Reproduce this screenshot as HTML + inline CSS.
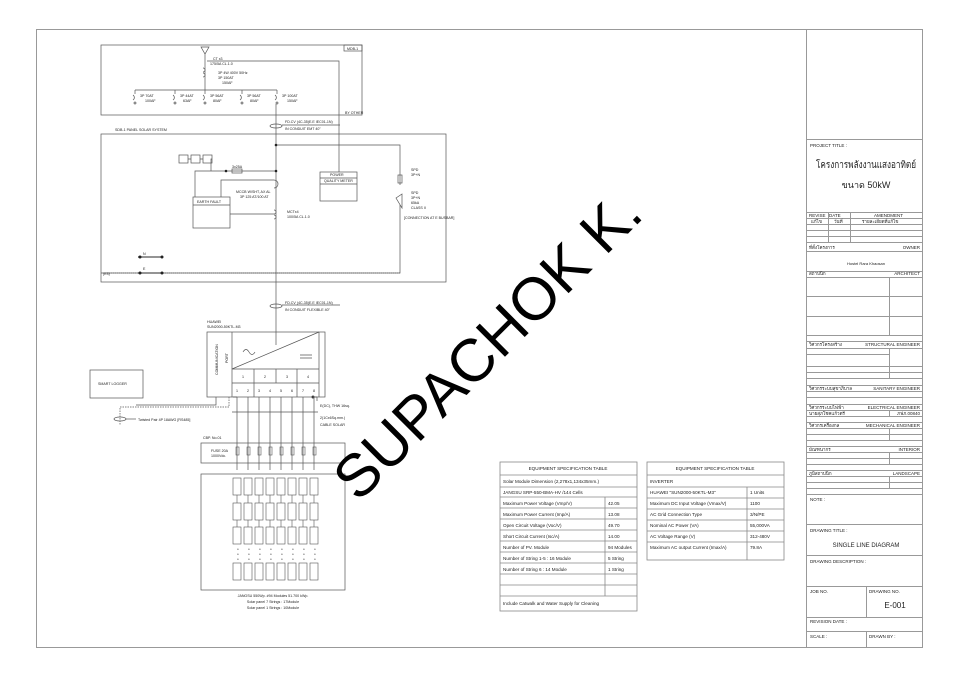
<!DOCTYPE html>
<html><head><meta charset="utf-8"><style>
html,body{margin:0;padding:0;background:#fff;}
svg{display:block;}
text{font-family:"Liberation Sans","Noto Sans CJK SC",sans-serif;fill:#222;}
</style></head><body>
<svg width="960" height="678" viewBox="0 0 960 678" xmlns="http://www.w3.org/2000/svg">
<rect width="960" height="678" fill="#fff"/>
<g fill="none" stroke="#999" stroke-width="1">
<rect x="36.5" y="29.5" width="886" height="618"/>
<line x1="806.5" y1="29" x2="806.5" y2="648"/>
<line x1="806" y1="139.5" x2="923" y2="139.5"/>
<line x1="806" y1="212.5" x2="923" y2="212.5"/>
<line x1="806" y1="218.5" x2="923" y2="218.5"/>
<line x1="806" y1="224.5" x2="923" y2="224.5"/>
<line x1="806" y1="230.5" x2="923" y2="230.5"/>
<line x1="806" y1="236.5" x2="923" y2="236.5"/>
<line x1="806" y1="242.5" x2="923" y2="242.5"/>
<line x1="828.5" y1="212" x2="828.5" y2="242"/>
<line x1="850.5" y1="212" x2="850.5" y2="242"/>
<line x1="806" y1="251.5" x2="923" y2="251.5"/>
<line x1="806" y1="271.5" x2="923" y2="271.5"/>
<line x1="806" y1="277.5" x2="923" y2="277.5"/>
<line x1="806" y1="296.5" x2="923" y2="296.5"/>
<line x1="806" y1="316.5" x2="923" y2="316.5"/>
<line x1="806" y1="335.5" x2="923" y2="335.5"/>
<line x1="889.5" y1="277" x2="889.5" y2="335"/>
<line x1="806" y1="341.5" x2="923" y2="341.5"/>
<line x1="806" y1="348.5" x2="923" y2="348.5"/>
<line x1="806" y1="354.5" x2="889" y2="354.5"/>
<line x1="806" y1="366.5" x2="923" y2="366.5"/>
<line x1="806" y1="372.5" x2="923" y2="372.5"/>
<line x1="889.5" y1="348" x2="889.5" y2="378"/>
<line x1="806" y1="378.5" x2="923" y2="378.5"/>
<line x1="806" y1="385.5" x2="923" y2="385.5"/>
<line x1="806" y1="391.5" x2="923" y2="391.5"/>
<line x1="806" y1="397.5" x2="923" y2="397.5"/>
<line x1="806" y1="404.5" x2="923" y2="404.5"/>
<line x1="806" y1="410.5" x2="923" y2="410.5"/>
<line x1="806" y1="416.5" x2="923" y2="416.5"/>
<line x1="806" y1="422.5" x2="923" y2="422.5"/>
<line x1="889.5" y1="410" x2="889.5" y2="416"/>
<line x1="806" y1="428.5" x2="923" y2="428.5"/>
<line x1="806" y1="434.5" x2="923" y2="434.5"/>
<line x1="889.5" y1="428" x2="889.5" y2="440"/>
<line x1="806" y1="440.5" x2="923" y2="440.5"/>
<line x1="806" y1="446.5" x2="923" y2="446.5"/>
<line x1="806" y1="452.5" x2="923" y2="452.5"/>
<line x1="806" y1="458.5" x2="923" y2="458.5"/>
<line x1="889.5" y1="452" x2="889.5" y2="464"/>
<line x1="806" y1="464.5" x2="923" y2="464.5"/>
<line x1="806" y1="470.5" x2="923" y2="470.5"/>
<line x1="806" y1="476.5" x2="923" y2="476.5"/>
<line x1="806" y1="482.5" x2="923" y2="482.5"/>
<line x1="889.5" y1="476" x2="889.5" y2="488"/>
<line x1="806" y1="488.5" x2="923" y2="488.5"/>
<line x1="806" y1="494.5" x2="923" y2="494.5"/>
<line x1="806" y1="524.5" x2="923" y2="524.5"/>
<line x1="806" y1="555.5" x2="923" y2="555.5"/>
<line x1="806" y1="586.5" x2="923" y2="586.5"/>
<line x1="866.5" y1="586" x2="866.5" y2="617"/>
<line x1="806" y1="617.5" x2="923" y2="617.5"/>
<line x1="806" y1="631.5" x2="923" y2="631.5"/>
<line x1="866.5" y1="631" x2="866.5" y2="648"/>
</g>
<g font-size="4.5">
<text x="810" y="147">PROJECT TITLE :</text>
<text x="866" y="168" font-size="10" text-anchor="middle" textLength="100" lengthAdjust="spacingAndGlyphs" font-family="Liberation Serif,'Noto Serif CJK SC',serif">โครงการพลังงานแสงอาทิตย์</text>
<text x="866" y="188" font-size="9" text-anchor="middle" font-family="Liberation Serif,'Noto Serif CJK SC',serif">ขนาด 50kW</text>
<text x="809" y="217">REVISE</text><text x="829" y="217">DATE</text><text x="874" y="217">AMENDMENT</text>
<text x="811" y="223">แก้ไข</text><text x="834" y="223">วันที่</text><text x="862" y="223">รายละเอียดที่แก้ไข</text>
<text x="809" y="249">ที่ตั้งโครงการ</text><text x="920" y="249" text-anchor="end">OWNER</text>
<text x="866" y="265" text-anchor="middle" font-size="4">Hostel Rara Khaosan</text>
<text x="809" y="275">สถาปนิก</text><text x="920" y="275" text-anchor="end">ARCHITECT</text>
<text x="809" y="346">วิศวกรโครงสร้าง</text><text x="920" y="346" text-anchor="end">STRUCTURAL ENGINEER</text>
<text x="809" y="390">วิศวกรระบบสุขาภิบาล</text><text x="920" y="390" text-anchor="end">SANITARY ENGINEER</text>
<text x="809" y="409">วิศวกรระบบไฟฟ้า</text><text x="920" y="409" text-anchor="end">ELECTRICAL ENGINEER</text>
<text x="809" y="415">นายสุภโชคแก้วตรี</text><text x="920" y="415" text-anchor="end">ภฟภ.00840</text>
<text x="809" y="427">วิศวกรเครื่องกล</text><text x="920" y="427" text-anchor="end">MECHANICAL ENGINEER</text>
<text x="809" y="451">มัณฑนากร</text><text x="920" y="451" text-anchor="end">INTERIOR</text>
<text x="809" y="475">ภูมิสถาปนิก</text><text x="920" y="475" text-anchor="end">LANDSCAPE</text>
<text x="810" y="501">NOTE :</text>
<text x="810" y="532">DRAWING TITLE :</text>
<text x="866" y="547" text-anchor="middle" font-size="6">SINGLE LINE DIAGRAM</text>
<text x="810" y="563">DRAWING DESCRIPTION :</text>
<text x="810" y="593">JOB NO.</text><text x="869" y="593">DRAWING NO.</text>
<text x="895" y="608" text-anchor="middle" font-size="8">E-001</text>
<text x="810" y="623">REVISION DATE :</text>
<text x="810" y="638">SCALE :</text><text x="869" y="638">DRAWN BY :</text>
</g>

<g fill="none" stroke="#888" stroke-width="0.8">
<rect x="500" y="462" width="137" height="149"/>
<line x1="500" y1="475" x2="637" y2="475"/><line x1="500" y1="487" x2="637" y2="487"/>
<line x1="500" y1="497" x2="637" y2="497"/><line x1="500" y1="508" x2="637" y2="508"/>
<line x1="500" y1="519" x2="637" y2="519"/><line x1="500" y1="530" x2="637" y2="530"/>
<line x1="500" y1="541" x2="637" y2="541"/><line x1="500" y1="552" x2="637" y2="552"/>
<line x1="500" y1="563" x2="637" y2="563"/><line x1="500" y1="574" x2="637" y2="574"/>
<line x1="500" y1="585" x2="637" y2="585"/><line x1="500" y1="596" x2="637" y2="596"/>
<line x1="605" y1="497" x2="605" y2="596"/>
<rect x="647" y="462" width="137" height="98"/>
<line x1="647" y1="475" x2="784" y2="475"/><line x1="647" y1="487" x2="784" y2="487"/>
<line x1="647" y1="498" x2="784" y2="498"/><line x1="647" y1="509" x2="784" y2="509"/>
<line x1="647" y1="520" x2="784" y2="520"/><line x1="647" y1="531" x2="784" y2="531"/>
<line x1="647" y1="542" x2="784" y2="542"/>
<line x1="747" y1="487" x2="747" y2="560"/>
</g>
<g font-size="4.6">
<text x="568" y="470" text-anchor="middle">EQUIPMENT SPECIFICATION TABLE</text>
<text x="503" y="483">Solar Module Dimension (2,278x1,134x35mm.)</text>
<text x="503" y="494">JANGSU SRP-550-BMA-HV /144 Cells</text>
<text x="503" y="505">Maximum Power Voltage (Vmp/V)</text><text x="608" y="505">42.05</text>
<text x="503" y="516">Maximum Power Current (Imp/A)</text><text x="608" y="516">13.08</text>
<text x="503" y="527">Open Circuit Voltage (Voc/V)</text><text x="608" y="527">49.70</text>
<text x="503" y="538">Short Circuit Current (Isc/A)</text><text x="608" y="538">14.00</text>
<text x="503" y="549">Number of PV. Module</text><text x="608" y="549">94 Modules</text>
<text x="503" y="560">Number of String 1-5 : 16 Module</text><text x="608" y="560">5 String</text>
<text x="503" y="571">Number of String 6 : 14 Module</text><text x="608" y="571">1 String</text>
<text x="503" y="605">Include Catwalk and Water Supply for Cleaning</text>
<text x="715" y="470" text-anchor="middle">EQUIPMENT SPECIFICATION TABLE</text>
<text x="650" y="483">INVERTER</text>
<text x="650" y="494">HUAWEI "SUN2000-50KTL-M3"</text><text x="750" y="494">1 Units</text>
<text x="650" y="505">Maximum DC Input Voltage (Vmax/V)</text><text x="750" y="505">1100</text>
<text x="650" y="516">AC Grid Connection Type</text><text x="750" y="516">3/N/PE</text>
<text x="650" y="527">Nominal AC Power (VA)</text><text x="750" y="527">55,000VA</text>
<text x="650" y="538">AC Voltage Range (V)</text><text x="750" y="538">312-480V</text>
<text x="650" y="549">Maximum AC output Current (Imax/A)</text><text x="750" y="549">79.8A</text>
</g>

<g fill="none" stroke="#555" stroke-width="0.7">
<rect x="101" y="45" width="261" height="70"/>
<rect x="344" y="45" width="18" height="6"/>
<path d="M201 47 h8 l-4 7 z M205 54 v36"/>
<path d="M207 61 H339 V172"/>
<path d="M135 90 H277"/>
<path d="M135 90 v4 M175 90 v4 M205 90 v4 M242 90 v4 M277 90 v4"/>
<path d="M133 95 a3 3 0 0 1 0 5 M173 95 a3 3 0 0 1 0 5 M203 95 a3 3 0 0 1 0 5 M240 95 a3 3 0 0 1 0 5 M275 95 a3 3 0 0 1 0 5"/>
<circle cx="135" cy="103" r="1"/><circle cx="175" cy="103" r="1"/><circle cx="205" cy="103" r="1"/><circle cx="242" cy="103" r="1"/><circle cx="277" cy="103" r="1"/>
<path d="M203 68 a2 2 0 0 1 0 4 M203 73 a2 2 0 0 1 0 4"/>
<path d="M276 104 V345"/>
<ellipse cx="276" cy="126" rx="6" ry="2"/>
<path d="M282 125 H340"/>
<rect x="101" y="134" width="345" height="148"/>
<path d="M276 145 H400 V185 M400 205 V273 H101"/>
<rect x="398" y="175" width="4" height="8"/>
<path d="M396 198 l6 -4 v14 z"/>
<path d="M211 171 H276 M211 171 V163 M211 171 H195 V197"/>
<rect x="232" y="169" width="10" height="4"/>
<rect x="179" y="155" width="9" height="8"/><rect x="191" y="155" width="9" height="8"/><rect x="203" y="155" width="9" height="8"/>
<path d="M188 159 h3 M200 159 h3 M212 159 h-1 V163"/>
<path d="M274 180 a4 4 0 0 1 0 8"/>
<path d="M274 180 H221 V197"/>
<rect x="193" y="197" width="37" height="31"/><line x1="193" y1="205" x2="230" y2="205"/>
<path d="M230 214 H274"/>
<path d="M274 210 a2 2 0 0 1 0 4 M274 215 a2 2 0 0 1 0 4"/>
<rect x="320" y="172" width="37" height="29"/><line x1="320" y1="178" x2="357" y2="178"/><line x1="320" y1="184" x2="357" y2="184"/>
<path d="M138 257 H162 M138 273 H162" stroke-width="1.3"/>
<path d="M107 273 H400" stroke-dasharray="1 1"/>
<ellipse cx="276" cy="306" rx="6" ry="2"/>
<path d="M282 305 H340"/>
<rect x="207" y="332" width="118" height="65"/>
<line x1="232" y1="332" x2="232" y2="397"/>
<path d="M232 369 L319 332 M232 369 H319 M232 383 H319 M254 369 V397 M276 369 V383 M297 369 V397 M319 332 V397"/>
<path d="M243 352 q3 -5 6 0 q3 5 6 0"/>
<path d="M300 355 h12 M300 358 h12"/>
<circle cx="313" cy="397" r="1.2" fill="#222"/>
<path d="M313 397 h4 v4"/>
<path d="M237 397 V470 M248 397 V470 M259 397 V470 M270 397 V470 M281 397 V470 M292 397 V470 M303 397 V470 M314 397 V470"/>
<path d="M233 397 H237 M216 397 V405 H136"/>
<path d="M229 397 V407 H120 V425" stroke-dasharray="1.5 1"/>
<ellipse cx="120" cy="419" rx="6" ry="2"/>
<path d="M126 419 H136"/>
<rect x="90" y="370" width="53" height="28"/>
<path d="M232 412 H318"/>
<rect x="201" y="443" width="144" height="20"/>
<rect x="201" y="474" width="144" height="116"/>
</g>
<g fill="none" stroke="#555" stroke-width="0.6">
<rect x="233" y="478" width="8" height="17"/><rect x="244" y="478" width="8" height="17"/><rect x="255" y="478" width="8" height="17"/><rect x="266" y="478" width="8" height="17"/><rect x="277" y="478" width="8" height="17"/><rect x="288" y="478" width="8" height="17"/><rect x="299" y="478" width="8" height="17"/><rect x="310" y="478" width="8" height="17"/>
<rect x="233" y="503" width="8" height="17"/><rect x="244" y="503" width="8" height="17"/><rect x="255" y="503" width="8" height="17"/><rect x="266" y="503" width="8" height="17"/><rect x="277" y="503" width="8" height="17"/><rect x="288" y="503" width="8" height="17"/><rect x="299" y="503" width="8" height="17"/><rect x="310" y="503" width="8" height="17"/>
<rect x="233" y="527" width="8" height="17"/><rect x="244" y="527" width="8" height="17"/><rect x="255" y="527" width="8" height="17"/><rect x="266" y="527" width="8" height="17"/><rect x="277" y="527" width="8" height="17"/><rect x="288" y="527" width="8" height="17"/><rect x="299" y="527" width="8" height="17"/><rect x="310" y="527" width="8" height="17"/>
<rect x="233" y="563" width="8" height="17"/><rect x="244" y="563" width="8" height="17"/><rect x="255" y="563" width="8" height="17"/><rect x="266" y="563" width="8" height="17"/><rect x="277" y="563" width="8" height="17"/><rect x="288" y="563" width="8" height="17"/><rect x="299" y="563" width="8" height="17"/><rect x="310" y="563" width="8" height="17"/>
<path d="M237 495 V503 M248 495 V503 M259 495 V503 M270 495 V503 M281 495 V503 M292 495 V503 M303 495 V503 M314 495 V503 M237 520 V527 M248 520 V527 M259 520 V527 M270 520 V527 M281 520 V527 M292 520 V527 M303 520 V527 M314 520 V527"/>
<rect x="236" y="447" width="3" height="8"/><rect x="247" y="447" width="3" height="8"/><rect x="258" y="447" width="3" height="8"/><rect x="269" y="447" width="3" height="8"/><rect x="280" y="447" width="3" height="8"/><rect x="291" y="447" width="3" height="8"/><rect x="302" y="447" width="3" height="8"/><rect x="313" y="447" width="3" height="8"/>
</g>
<g fill="#777" font-size="3">
<text x="237" y="550">o</text><text x="248" y="550">o</text><text x="259" y="550">o</text><text x="270" y="550">o</text><text x="281" y="550">o</text><text x="292" y="550">o</text><text x="303" y="550">o</text><text x="314" y="550">o</text>
<text x="237" y="555">o</text><text x="248" y="555">o</text><text x="259" y="555">o</text><text x="270" y="555">o</text><text x="281" y="555">o</text><text x="292" y="555">o</text><text x="303" y="555">o</text><text x="314" y="555">o</text>
<text x="237" y="560">o</text><text x="248" y="560">o</text><text x="259" y="560">o</text><text x="270" y="560">o</text><text x="281" y="560">o</text><text x="292" y="560">o</text><text x="303" y="560">o</text><text x="314" y="560">o</text>
</g>
<g fill="#222">
<circle cx="276" cy="145" r="1.3"/><circle cx="276" cy="171" r="1.3"/><circle cx="226" cy="171" r="1.3"/>
<circle cx="140" cy="257" r="1.5"/><circle cx="162" cy="257" r="1.5"/><circle cx="140" cy="273" r="1.5"/><circle cx="162" cy="273" r="1.5"/>
</g>
<g font-size="3.6" fill="#333">
<text x="347" y="50">MDB-1</text>
<text x="345" y="114">BY OTHER</text>
<text x="213" y="60">CT x3</text><text x="210" y="65">175/5A CL.1.0</text>
<text x="218" y="74">3P 4W 400V 50Hz</text><text x="218" y="79">3P 150AT</text><text x="222" y="84">150AF</text>
<text x="140" y="97">3P 70AT</text><text x="145" y="102">100AF</text>
<text x="180" y="97">3P 44AT</text><text x="183" y="102">63AF</text>
<text x="210" y="97">3P 56AT</text><text x="213" y="102">80AF</text>
<text x="247" y="97">3P 56AT</text><text x="250" y="102">80AF</text>
<text x="282" y="97">3P 100AT</text><text x="287" y="102">150AF</text>
<text x="285" y="123">FD.CV (4C-35)E.E IEC01-1N)</text><text x="285" y="130">IN CONDUIT EMT 40"</text>
<text x="115" y="131">SDB-1 PANEL SOLAR SYSTEM</text>
<text x="232" y="168">3x25A</text>
<text x="236" y="193">MCCB W/SHT, AX AL</text><text x="240" y="198">3P 125 AT/100 AT</text>
<text x="287" y="213">MCTx4</text><text x="287" y="218">100/5A CL.1.0</text>
<text x="197" y="203">EARTH FAULT</text>
<text x="330" y="176">POWER</text><text x="324" y="182">QUALITY METER</text>
<text x="411" y="171">SPD</text><text x="411" y="176">3P+N</text>
<text x="411" y="194">SPD</text><text x="411" y="199">3P+N</text><text x="411" y="204">65kA</text><text x="411" y="209">CLASS II</text>
<text x="404" y="219">[CONNECTION AT E BUSBAR]</text>
<text x="143" y="255">N</text><text x="143" y="270">E</text><text x="103" y="275">(E3)</text>
<text x="285" y="304">FD.CV (4C-35)E.E IEC01-1N)</text><text x="285" y="311">IN CONDUIT FLEXIBLE 40"</text>
<text x="207" y="323">HUAWEI</text><text x="207" y="328">SUN2000-50KTL-M3</text>
<text x="218" y="375" transform="rotate(-90 218 375)">COMMUNICATION</text>
<text x="228" y="363" transform="rotate(-90 228 363)">PORT</text>
<text x="242" y="378">1</text><text x="264" y="378">2</text><text x="286" y="378">3</text><text x="307" y="378">4</text>
<text x="236" y="392">1</text><text x="247" y="392">2</text><text x="258" y="392">3</text><text x="269" y="392">4</text><text x="280" y="392">5</text><text x="291" y="392">6</text><text x="302" y="392">7</text><text x="313" y="392">8</text>
<text x="320" y="407">E(DC), THW 16sq.</text>
<text x="320" y="419">2(1Cx6Sq.mm.)</text><text x="320" y="426">CABLE SOLAR</text>
<text x="98" y="385">SMART LOGGER</text>
<text x="138" y="421">Twisted Pair 4P 18AWG [RS485]</text>
<text x="203" y="439">CBP. No.01</text>
<text x="211" y="452">FUSE 20A</text><text x="211" y="457">1000Vdc.</text>
<text x="273" y="597" text-anchor="middle">JANGSU 550Wp. #94 Modules 51.700 kWp.</text>
<text x="273" y="603" text-anchor="middle">Solar panel 7 Strings : 17Module</text>
<text x="273" y="609" text-anchor="middle">Solar panel 1 Strings : 10Module</text>
</g>
<text x="487" y="366" font-size="60" text-anchor="middle" transform="rotate(-45 487 345)" style="fill:#000">SUPACHOK K.</text>
</svg>
</body></html>
